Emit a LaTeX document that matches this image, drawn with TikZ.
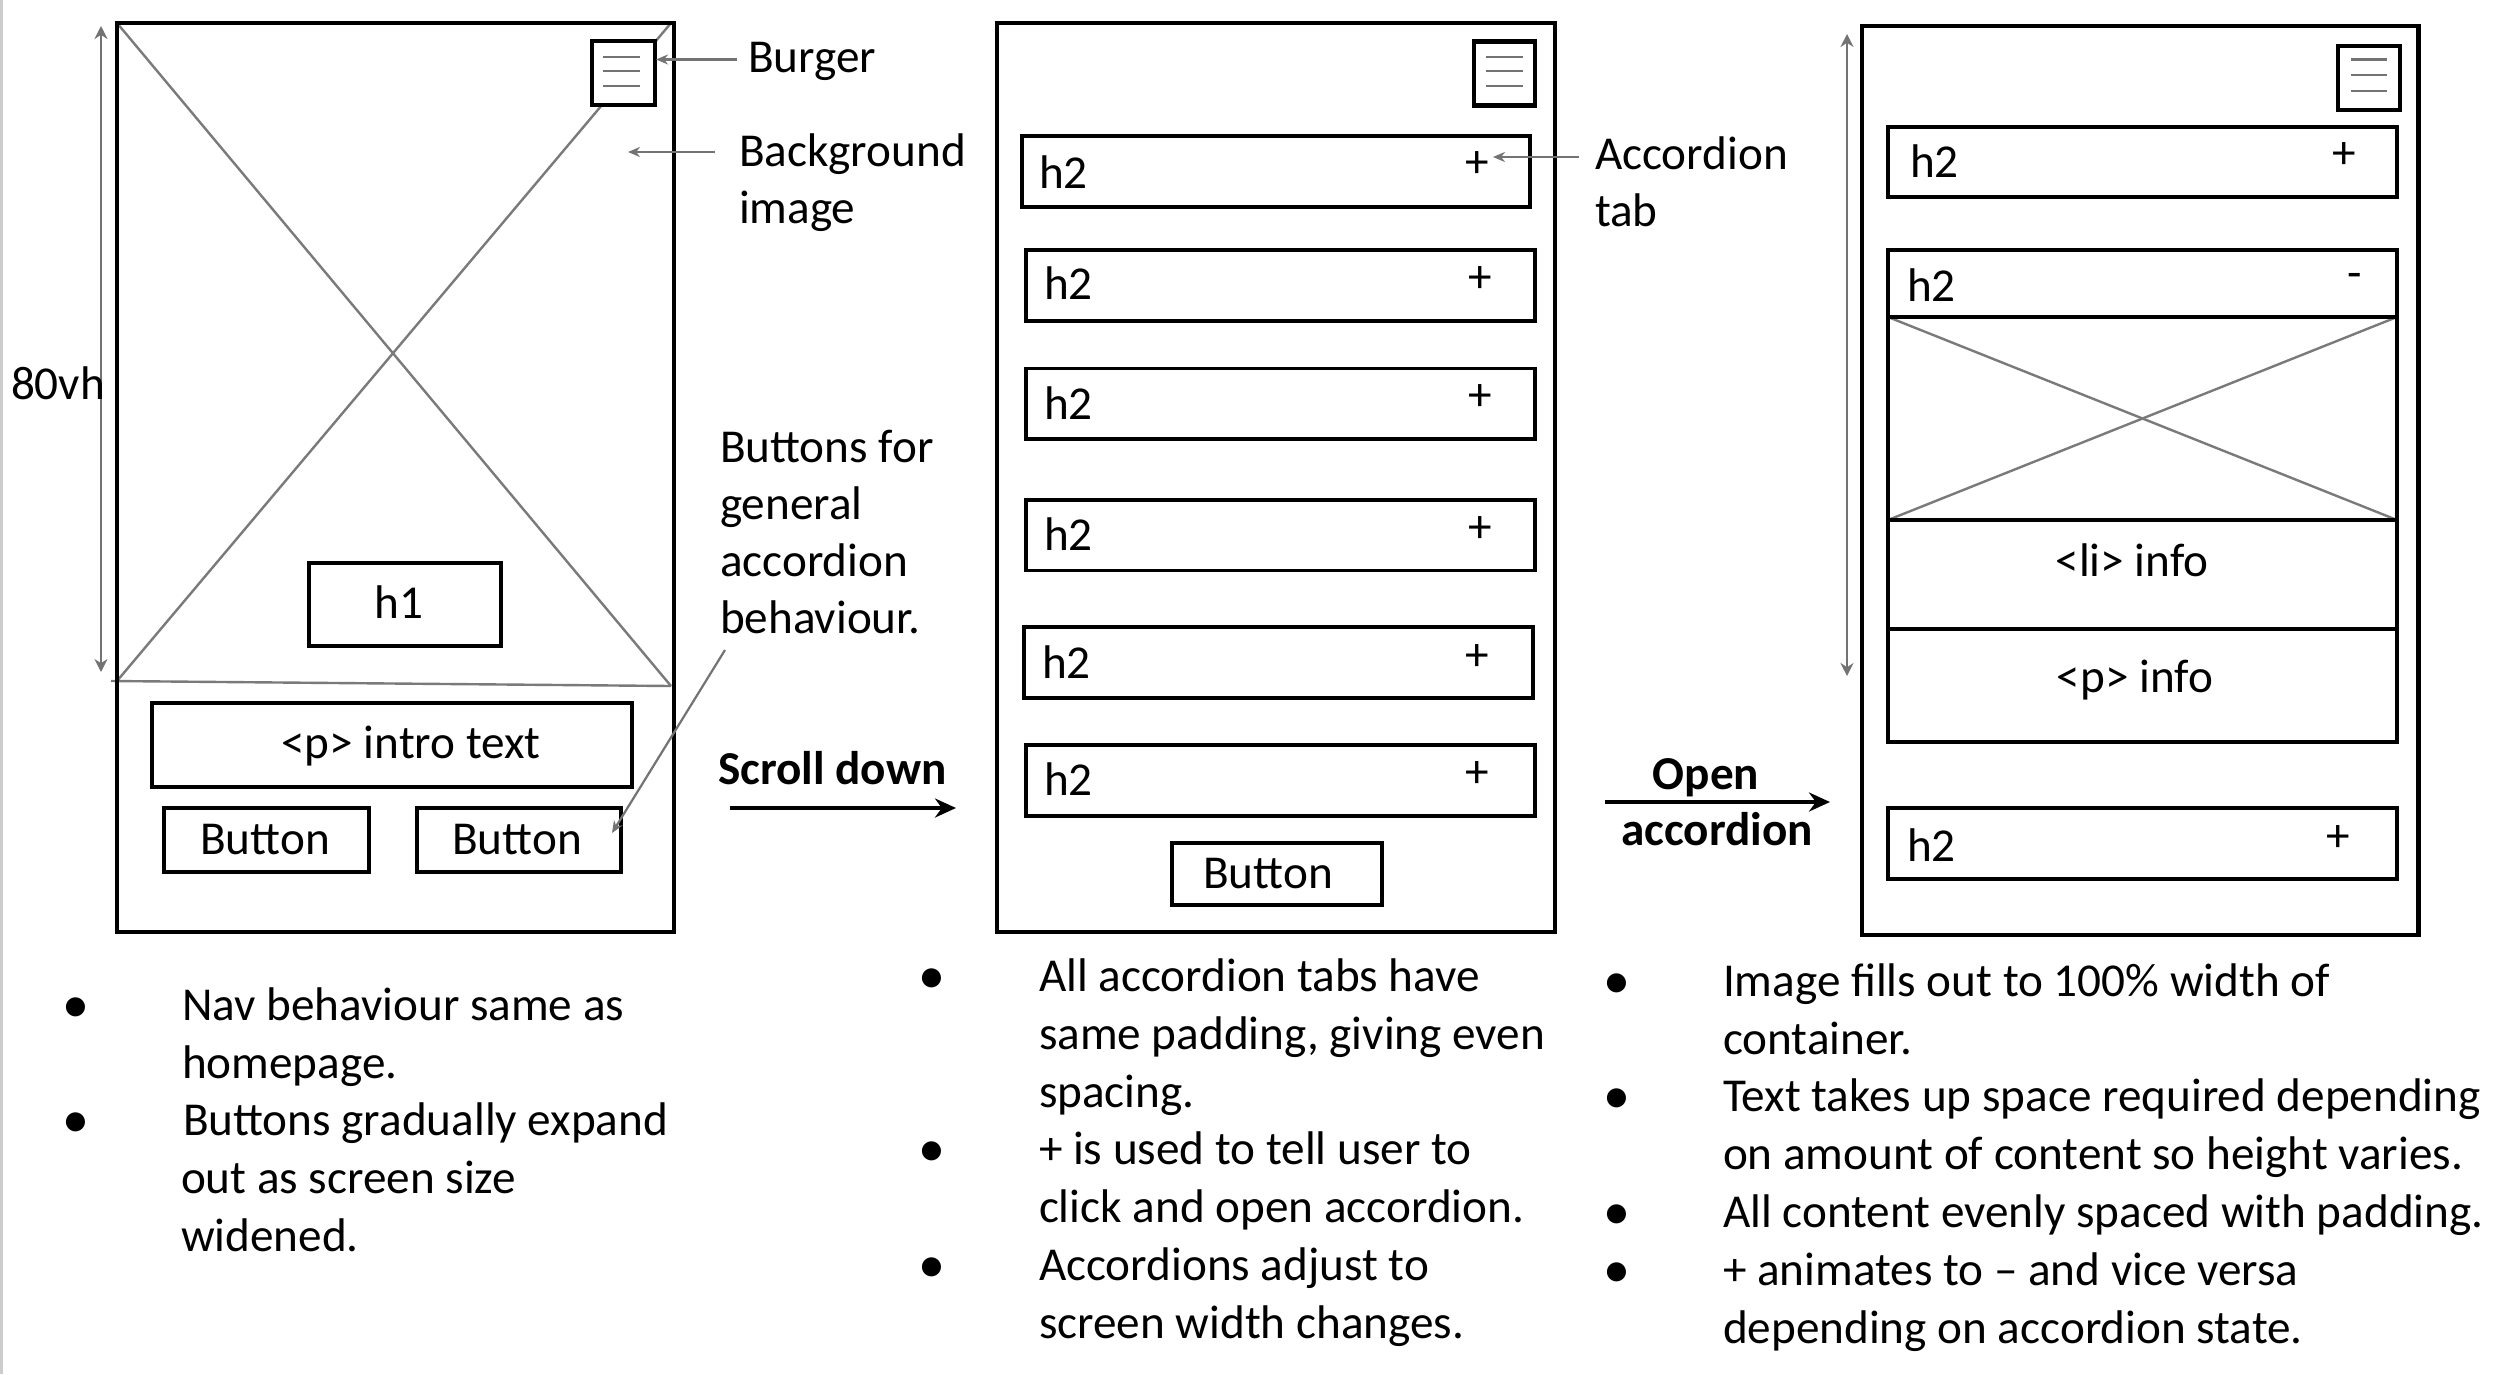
\documentclass[tikz,border=0pt]{standalone}
\usepackage{fontspec}
\setmainfont{Carlito}
\usetikzlibrary{arrows.meta,fit}
\newcommand\myfs{\fontsize{47.2}{57.5}\selectfont}
\newcommand\bulfs{\fontsize{54}{60}\selectfont}
\begin{document}
\begin{tikzpicture}[x=1pt,y=-1pt,
  frame/.style={draw=black, line width=4.5pt, inner sep=0pt, outer sep=0pt},
  box/.style={draw=black, line width=3.4pt, fill=white, inner sep=0pt, outer sep=0pt},
  bbox/.style={draw=black, line width=4.8pt, fill=white, inner sep=0pt, outer sep=0pt},
  xline/.style={draw=black!52, line width=2.4pt},
  bline/.style={draw=black!55, line width=2.2pt},
  txt/.style={font=\myfs, inner sep=0pt, outer sep=0pt},
  lbl/.style={txt, anchor=base west},
  ctr/.style={txt, anchor=base},
  bul/.style={font=\bulfs, inner sep=0pt, outer sep=0pt, anchor=base},
  boldtxt/.style={txt, font=\myfs\bfseries, anchor=base},
  ptr/.style={draw=black!55, line width=2.2pt, -{Stealth[length=12pt,width=10pt]}},
  dim/.style={draw=black!55, line width=2.4pt, {Stealth[length=13pt,width=13pt]}-{Stealth[length=13pt,width=13pt]}},
  flow/.style={draw=black, line width=4.5pt, -{Stealth[length=21pt,width=19pt]}},
]
\useasboundingbox[fill=white] (0,0) rectangle (2518,1374);
\draw[black!20, line width=3pt] (1.5,0) -- (1.5,1374);

% ================= Phone 1 =================
\coordinate (i1tl) at (117,23);
\coordinate (i1tr) at (671,23);
\coordinate (i1bl) at (117,681);
\coordinate (i1br) at (671,686);
\coordinate (i1bx) at (111,681);
\draw[xline] (i1tl) -- (i1br);
\draw[xline] (i1bl) -- (i1tr);
\draw[xline] (i1bx) -- (i1br);
\node[frame, fit={(117,23)(674,932)}] (ph1) {};
\node[bbox, fit={(592,41)(655,105)}] (bg1) {};
\coordinate (b1l1a) at (603,57); \coordinate (b1l1b) at (640,57);
\coordinate (b1l2a) at (603,71); \coordinate (b1l2b) at (640,71);
\coordinate (b1l3a) at (603,86); \coordinate (b1l3b) at (640,86);
\draw[bline] (b1l1a) -- (b1l1b);
\draw[bline] (b1l2a) -- (b1l2b);
\draw[bline] (b1l3a) -- (b1l3b);

\node[box, fit={(309,563)(501,646)}] (h1box) {};
\node[txt, anchor=center] (h1txt) at (399,602) {h1};
\node[box, fit={(152,703)(632,787)}] (introbox) {};
\node[ctr] (introtxt) at (411,758) {<p> intro text};
\node[box, fit={(164,808)(369,872)}] (btn1) {};
\node[txt, anchor=center] (btn1txt) at (265,840) {Button};
\node[box, fit={(417,808)(621,872)}] (btn2) {};
\node[txt, anchor=center] (btn2txt) at (517,840) {Button};

\coordinate (d1a) at (101,26);
\coordinate (d1b) at (101,672);
\draw[dim] (d1a) -- (d1b);
\node[lbl] (vh) at (11,399) {80vh};

% labels phone 1
\node[lbl] (burgerlbl) at (748,72) {Burger};
\node[lbl] (bglbl1) at (739,166.5) {Background};
\node[lbl] (bglbl2) at (739,223) {image};
\node[lbl] (btnlbl1) at (720,462) {Buttons for};
\node[lbl] (btnlbl2) at (720,519) {general};
\node[lbl] (btnlbl3) at (720,576) {accordion};
\node[lbl] (btnlbl4) at (720,633) {behaviour.};
\coordinate (pa1) at (737,59.5); \coordinate (pa1e) at (656,59.5);
\coordinate (pa2) at (715,152);  \coordinate (pa2e) at (628,152);
\coordinate (pa3) at (725,650);  \coordinate (pa3e) at (612,833);
\draw[ptr] (pa1) -- (pa1e);
\draw[ptr] (pa2) -- (pa2e);
\draw[ptr] (pa3) -- (pa3e);

% scroll down
\node[boldtxt, anchor=base west] (scroll) at (718,784) {Scroll down};
\coordinate (sa) at (730,808); \coordinate (sb) at (956,808);
\draw[flow] (sa) -- (sb);

% ================= Phone 2 =================
\node[frame, fit={(997,23)(1555,932)}] (ph2) {};
\node[bbox, fit={(1474,41.6)(1535,105.3)}] (bg2) {};
\coordinate (b2l1a) at (1486,57); \coordinate (b2l1b) at (1523,57);
\coordinate (b2l2a) at (1486,71); \coordinate (b2l2b) at (1523,71);
\coordinate (b2l3a) at (1486,86); \coordinate (b2l3b) at (1523,86);
\draw[bline] (b2l1a) -- (b2l1b);
\draw[bline] (b2l2a) -- (b2l2b);
\draw[bline] (b2l3a) -- (b2l3b);

\node[box, fit={(1022,136)(1530,207)}] (t1) {};
\node[txt, anchor=west] (t1h) at (1039,172.6) {h2};
\node[txt, anchor=center] (t1p) at (1477,165) {+};
\node[box, fit={(1026,250)(1535,321)}] (t2) {};
\node[txt, anchor=west] (t2h) at (1044,283) {h2};
\node[txt, anchor=center] (t2p) at (1480,280) {+};
\node[box, fit={(1026,368.5)(1535,439)}] (t3) {};
\node[txt, anchor=west] (t3h) at (1044,403) {h2};
\node[txt, anchor=center] (t3p) at (1480,398) {+};
\node[box, fit={(1026,500)(1535,570.5)}] (t4) {};
\node[txt, anchor=west] (t4h) at (1044,534) {h2};
\node[txt, anchor=center] (t4p) at (1480,530) {+};
\node[box, fit={(1024,627)(1533,698)}] (t5) {};
\node[txt, anchor=west] (t5h) at (1042,662) {h2};
\node[txt, anchor=center] (t5p) at (1477,658) {+};
\node[box, fit={(1026,745)(1535,816)}] (t6) {};
\node[txt, anchor=west] (t6h) at (1044,779) {h2};
\node[txt, anchor=center] (t6p) at (1477,775) {+};
\node[box, fit={(1172,843)(1382,905)}] (btn3) {};
\node[txt, anchor=center] (btn3txt) at (1268,874) {Button};

\node[lbl] (acclbl1) at (1595,169.6) {Accordion};
\node[lbl] (acclbl2) at (1595,226.5) {tab};
\coordinate (pa4) at (1579,157); \coordinate (pa4e) at (1493,157);
\draw[ptr] (pa4) -- (pa4e);

% open accordion
\node[boldtxt] (open1) at (1706,789) {Open};
\node[boldtxt] (open2) at (1717,845) {accordion};
\coordinate (oa) at (1605,802); \coordinate (ob) at (1830,802);
\draw[flow] (oa) -- (ob);

% ================= Phone 3 =================
\coordinate (d3a) at (1847,34);
\coordinate (d3b) at (1847,676);
\draw[dim] (d3a) -- (d3b);
\node[frame, fit={(1862,26)(2418.5,935)}] (ph3) {};
\node[bbox, fit={(2338,46)(2400,110)}] (bg3) {};
\coordinate (b3l1a) at (2351,59.4); \coordinate (b3l1b) at (2387,59.4);
\coordinate (b3l2a) at (2351,74.7); \coordinate (b3l2b) at (2387,74.7);
\coordinate (b3l3a) at (2351,90.6); \coordinate (b3l3b) at (2387,90.6);
\draw[bline] (b3l1a) -- (b3l1b);
\draw[bline] (b3l2a) -- (b3l2b);
\draw[bline] (b3l3a) -- (b3l3b);

\node[box, fit={(1888,127)(2397,197)}] (u1) {};
\node[txt, anchor=west] (u1h) at (1910,161) {h2};
\node[txt, anchor=center] (u1p) at (2344,156) {+};
\node[box, fit={(1888,250)(2397,317)}] (u2) {};
\node[txt, anchor=west] (u2h) at (1907,285) {h2};
\node[txt, anchor=center] (u2m) at (2355,281) {-};
\node[box, fit={(1888,317)(2397,520)}] (uimg) {};
\draw[xline] (uimg.north west) -- (uimg.south east);
\draw[xline] (uimg.south west) -- (uimg.north east);
\draw[black, line width=3.4pt] (uimg.north west) rectangle (uimg.south east);
\node[box, fit={(1888,520)(2397,629)}] (uli) {};
\node[ctr] (ulitxt) at (2132,576) {<li> info};
\node[box, fit={(1888,629)(2397,742)}] (up) {};
\node[ctr] (uptxt) at (2135,692) {<p> info};
\node[box, fit={(1888,808)(2397,879)}] (u3) {};
\node[txt, anchor=west] (u3h) at (1907,845) {h2};
\node[txt, anchor=center] (u3p) at (2338,839) {+};

% ================= Notes =================
\node[bul] (n1b1) at (75.5,1022) {•};
\node[bul] (n1b2) at (75.5,1137.6) {•};
\node[lbl] (n1l1) at (182,1020) {Nav behaviour same as};
\node[lbl] (n1l2) at (182,1078) {homepage.};
\node[lbl] (n1l3) at (183,1135.6) {Buttons gradually expand};
\node[lbl] (n1l4) at (181,1193) {out as screen size};
\node[lbl] (n1l5) at (181,1251) {widened.};

\node[bul] (n2b1) at (931.5,993) {•};
\node[bul] (n2b2) at (931.5,1166.5) {•};
\node[bul] (n2b3) at (931.5,1282) {•};
\node[lbl] (n2l1) at (1039,991) {All accordion tabs have};
\node[lbl] (n2l2) at (1039,1049) {same padding, giving even};
\node[lbl] (n2l3) at (1039,1107) {spacing.};
\node[lbl] (n2l4) at (1039,1164.5) {+ is used to tell user to};
\node[lbl] (n2l5) at (1039,1222) {click and open accordion.};
\node[lbl] (n2l6) at (1039,1280) {Accordions adjust to};
\node[lbl] (n2l7) at (1039,1338) {screen width changes.};

\node[bul] (n3b1) at (1617,998) {•};
\node[bul] (n3b2) at (1617,1113.5) {•};
\node[bul] (n3b3) at (1617,1229) {•};
\node[bul] (n3b4) at (1617,1287) {•};
\node[lbl] (n3l1) at (1723,996) {Image fills out to 100\% width of};
\node[lbl] (n3l2) at (1723,1054) {container.};
\node[lbl] (n3l3) at (1723,1111.5) {Text takes up space required depending};
\node[lbl] (n3l4) at (1723,1169) {on amount of content so height varies.};
\node[lbl] (n3l5) at (1723,1227) {All content evenly spaced with padding.};
\node[lbl] (n3l6) at (1723,1285) {+ animates to – and vice versa};
\node[lbl] (n3l7) at (1723,1343) {depending on accordion state.};
\end{tikzpicture}
\end{document}
